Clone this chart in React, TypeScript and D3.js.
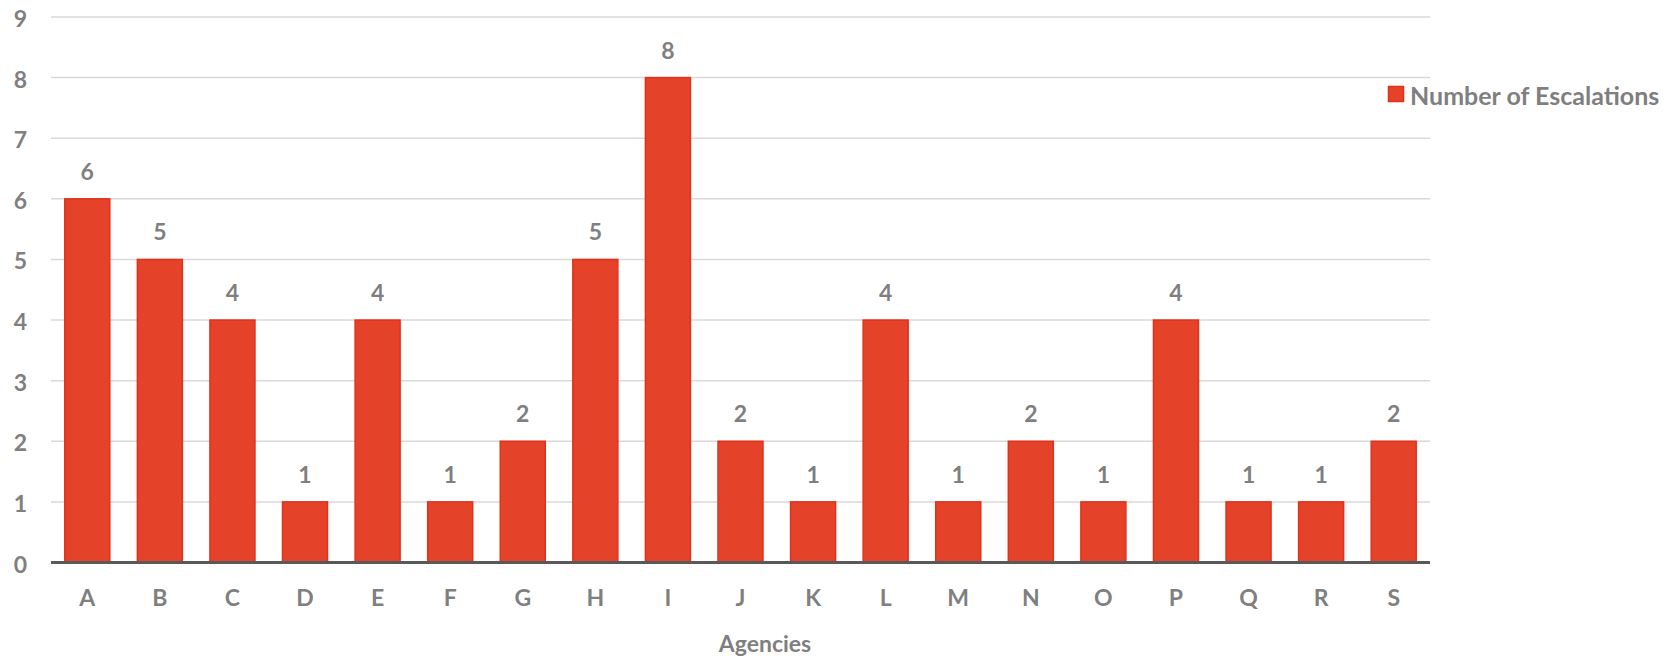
import React from 'react';
import * as d3 from 'd3';

// agencies and their escalation counts
const agencies = ['A', 'B', 'C', 'D', 'E', 'F', 'G', 'H', 'I', 'J', 'K', 'L', 'M', 'N', 'O', 'P', 'Q', 'R', 'S'];
const escalations = [6, 5, 4, 1, 4, 1, 2, 5, 8, 2, 1, 4, 1, 2, 1, 4, 1, 1, 2];
const yTicks = [0, 1, 2, 3, 4, 5, 6, 7, 8, 9];
const seriesName = 'Number of Escalations';
const xTitle = 'Agencies';

const W = 1673;
const H = 656;
const FONT = 'Lato, "Open Sans", sans-serif';
const GREY = '#7f7f7f';

const App: React.FC = () => {
  const left = 51;
  const right = 1430;
  const top = 17;
  const bottom = 562.5;

  const x = d3.scaleBand<string>().domain(agencies).range([left, right]).paddingInner(0.38).paddingOuter(0.19);
  const y = d3.scaleLinear().domain([0, 9]).range([bottom, top]);

  return (
    <svg width={W} height={H} style={{position: 'absolute', left: 0, top: 0}} fontFamily={FONT}>
      {/* gridlines */}
      {yTicks.filter((t) => t > 0).map((t) => (
        <line key={t} x1={left} x2={right} y1={y(t)} y2={y(t)} stroke="#d9d9d9" strokeWidth={1.5} />
      ))}
      {/* y tick labels */}
      {yTicks.map((t) => (
        <text key={t} x={27} y={y(t) + 10} textAnchor="end" fontSize={23} fontWeight={700} fill={GREY}>
          {t}
        </text>
      ))}
      {/* bars */}
      {agencies.map((a, i) => (
        <rect
          key={a}
          x={x(a)}
          y={y(escalations[i])}
          width={x.bandwidth()}
          height={y(0) - y(escalations[i])}
          fill="#e4432a"
          stroke="#e2301a"
          strokeWidth={1.5}
        />
      ))}
      {/* data labels */}
      {agencies.map((a, i) => (
        <text
          key={a}
          x={(x(a) as number) + x.bandwidth() / 2}
          y={y(escalations[i]) - 19}
          textAnchor="middle"
          fontSize={23}
          fontWeight={700}
          fill={GREY}
        >
          {escalations[i]}
        </text>
      ))}
      {/* baseline */}
      <line x1={left} x2={right} y1={y(0)} y2={y(0)} stroke="#595959" strokeWidth={3} />
      {/* category labels */}
      {agencies.map((a) => (
        <text
          key={a}
          x={(x(a) as number) + x.bandwidth() / 2}
          y={606}
          textAnchor="middle"
          fontSize={23}
          fontWeight={700}
          fill={GREY}
        >
          {a}
        </text>
      ))}
      <text x={765} y={652} textAnchor="middle" fontSize={23} fontWeight={700} fill={GREY}>
        {xTitle}
      </text>
      {/* legend */}
      <rect x={1388.5} y={86.5} width={15} height={15} fill="#e4432a" stroke="#e2301a" strokeWidth={1.5} />
      <text x={1410} y={105} fontSize={25} fontWeight={700} fill={GREY}>
        {seriesName}
      </text>
    </svg>
  );
};

export default App;
